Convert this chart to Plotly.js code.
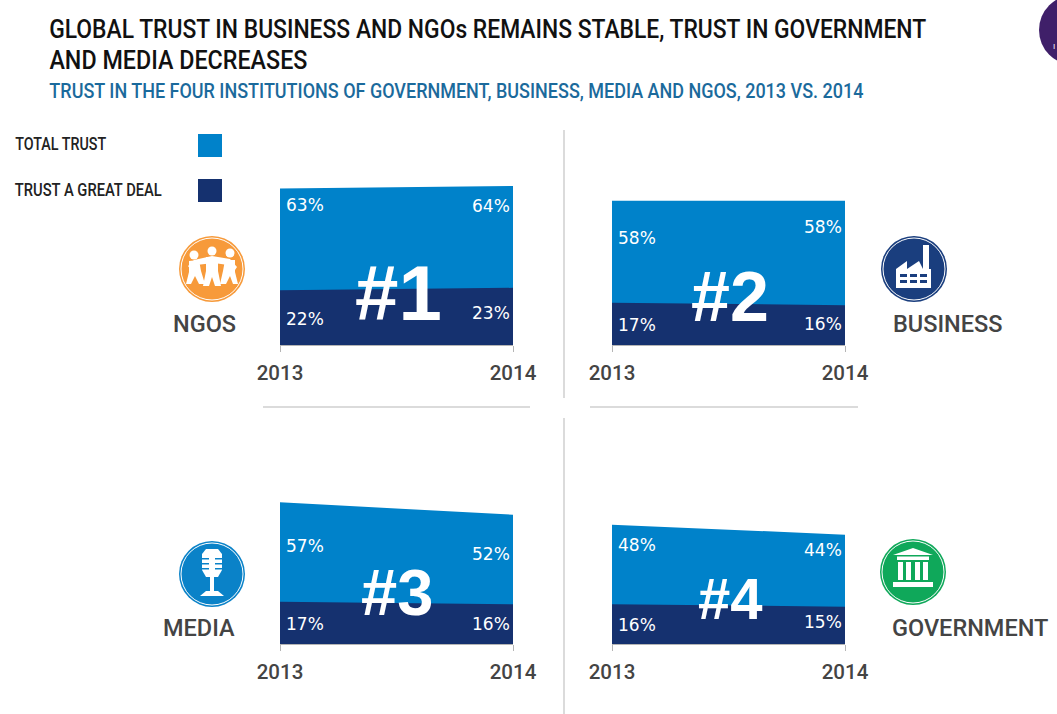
<!DOCTYPE html>
<html>
<head>
<meta charset="utf-8">
<script src="https://cdn.plot.ly/plotly-3.0.1.min.js"></script>
<style>
html, body { margin: 0; padding: 0; background: #fff; overflow: hidden; }
#chart { width: 1057px; height: 714px; }
</style>
</head>
<body>
<div id="chart"></div>
<script>
const W = 1057, H = 714;
const years = [2013, 2014];
const institutions = ["NGOS", "BUSINESS", "MEDIA", "GOVERNMENT"];
const ranks = ["#1", "#2", "#3", "#4"];
const total_trust = [[63, 64], [58, 58], [57, 52], [48, 44]];
const great_deal = [[22, 23], [17, 16], [17, 16], [16, 15]];

// how far each % label sits below the top of its area, px
const total_drop = [[17, 20], [37, 26], [44, 39], [20, 15]];
const deal_drop = [[29, 25], [22, 19], [22, 20], [21, 15]];

const light_blue = "#0082CA", dark_blue = "#15316F", sep = "#cfcfcf", label_col = "#444444";
// left, right, bottom of each panel in page px
const panels = [[280, 513, 345], [612, 845, 345], [280, 513, 644], [612, 845, 644]];
const rank_pos = [[398, 293, 78], [730, 297, 70], [397, 592, 65], [730, 598, 58]];
const name_pos = [[204, 324], [948, 324], [199, 628], [970, 628]];
const roboto = "Roboto, sans-serif";

// text squeezed to the width it has in the picture (no condensed font installed)
let squeeze = {};

let data = [], annotations = [], shapes = [];
let layout = {
    width: W,
    height: H,
    margin: { l: 0, r: 0, t: 0, b: 0 },
    paper_bgcolor: "#fff",
    plot_bgcolor: "#fff",
    showlegend: false,
    font: { family: roboto, color: label_col }
};

function px(x) { return x / W; }
function py(y) { return 1 - y / H; }

function addText(text, x, y, size, color, family, anchor, weight) {
    annotations.push({
        text: text,
        xref: "paper", yref: "paper",
        x: px(x), y: py(y),
        xanchor: anchor || "left", yanchor: "middle",
        showarrow: false,
        borderpad: 0,
        font: { size: size, color: color, family: family, weight: weight || 400 }
    });
}

// text that runs from x0 to x1 in the picture
function addFitText(text, x0, x1, y, size, color) {
    addText(text, (x0 + x1) / 2, y, size, color, roboto, "center", 500);
    squeeze[text] = x1 - x0;
}

function addSeparator(x0, y0, x1, y1) {
    shapes.push({ type: "line", xref: "paper", yref: "paper", x0: px(x0), y0: py(y0), x1: px(x1), y1: py(y1), line: { color: sep, width: 1.5 } });
}

function addCircle(cx, cy, r, fill, line) {
    shapes.push({
        type: "circle", xref: "paper", yref: "paper",
        x0: px(cx - r), x1: px(cx + r), y0: py(cy - r), y1: py(cy + r),
        fillcolor: fill, line: line || { width: 0 }
    });
}

function addPoly(cx, cy, pts, fill) {
    let path = pts.map((p, i) => (i == 0 ? "M" : "L") + px(cx + p[0]) + "," + py(cy + p[1])).join(" ") + " Z";
    shapes.push({ type: "path", xref: "paper", yref: "paper", path: path, fillcolor: fill, line: { width: 0 } });
}

function addBox(cx, cy, x0, y0, x1, y1, fill) {
    addPoly(cx, cy, [[x0, y0], [x1, y0], [x1, y1], [x0, y1]], fill);
}

function iconBase(cx, cy, color) {
    addCircle(cx, cy, 33, color);
    addCircle(cx, cy, 31, "rgba(0,0,0,0)", { color: "#fff", width: 1 });
}

function drawNgoIcon(cx, cy) {
    iconBase(cx, cy, "#F79A3A");
    [[-18, -14], [0, -18], [18, -16]].forEach(h => addCircle(cx + h[0], cy + h[1], 4.5, "#fff"));
    // linked arms
    addPoly(cx, cy, [[-24, -3], [-18, -9], [0, -13], [18, -10], [25, -2], [23, 1], [16, -4], [2, -6], [-16, -4], [-21, 1]], "#fff");
    addPoly(cx, cy, [[-23, -8], [-13, -9], [-11, 2], [-7, 15], [-13, 15], [-17, 7], [-21, 15], [-26, 15], [-23, 3]], "#fff");
    addPoly(cx, cy, [[-6, -12], [6, -12], [6, 2], [9, 17], [3, 17], [0, 8], [-3, 17], [-9, 17], [-6, 2]], "#fff");
    addPoly(cx, cy, [[13, -9], [23, -9], [23, 3], [26, 15], [21, 15], [18, 7], [14, 15], [8, 15], [11, 2]], "#fff");
}

function drawBusinessIcon(cx, cy) {
    iconBase(cx, cy, "#1A3E7E");
    addPoly(cx, cy, [[-18, 19], [-18, 0], [-7, -8], [-7, 0], [5, -8], [9, 0], [9, -24], [15, -24], [15, 0], [17, 0], [17, 19]], "#fff");
    [-14, -4, 6].forEach(c => {
        addBox(cx, cy, c, 5, c + 7, 8, "#1A3E7E");
        addBox(cx, cy, c, 11, c + 7, 14, "#1A3E7E");
    });
}

function drawMediaIcon(cx, cy) {
    iconBase(cx, cy, "#0A82C8");
    addPoly(cx, cy, [[-6, -25], [6, -25], [10, -20], [10, -4], [6, 3], [-6, 3], [-10, -4], [-10, -20]], "#fff");
    [-16, -11, -6].forEach(y => {
        addBox(cx, cy, -10, y, -3, y + 1.5, "#0A82C8");
        addBox(cx, cy, 3, y, 10, y + 1.5, "#0A82C8");
    });
    addBox(cx, cy, -2, 3, 2, 17, "#fff");
    addPoly(cx, cy, [[-6, 17], [6, 17], [12, 22], [-12, 22]], "#fff");
}

function drawGovIcon(cx, cy) {
    iconBase(cx, cy, "#0FA85A");
    addPoly(cx, cy, [[-20, -17], [0, -24], [20, -17]], "#fff");
    addBox(cx, cy, -16, -15.5, 16, -12, "#fff");
    [-15, -7, 2, 10].forEach(c => addBox(cx, cy, c, -10, c + 5, 8, "#fff"));
    addBox(cx, cy, -20, 10, 20, 15, "#fff");
}

function drawPanel(i) {
    let n = i == 0 ? "" : i + 1;
    let p = panels[i];
    layout["xaxis" + n] = {
        domain: [px(p[0]), px(p[1])],
        range: [years[0], years[1]],
        anchor: "y" + n,
        tickvals: years,
        ticktext: years.map(String),
        ticks: "outside",
        ticklen: 6,
        tickcolor: "#b5b5b5",
        showline: true,
        linecolor: "#b5b5b5",
        showgrid: false,
        zeroline: false,
        ticklabelstandoff: 3,
        tickfont: { size: 20.5, color: label_col, family: roboto, weight: 500 }
    };
    layout["yaxis" + n] = {
        domain: [py(p[2]), py(p[2] - 174)],
        range: [0, 70],
        anchor: "x" + n,
        visible: false
    };
    data.push({ x: years, y: total_trust[i], xaxis: "x" + n, yaxis: "y" + n, type: "scatter", mode: "lines", fill: "tozeroy", fillcolor: light_blue, line: { color: light_blue, width: 0 } });
    data.push({ x: years, y: great_deal[i], xaxis: "x" + n, yaxis: "y" + n, type: "scatter", mode: "lines", fill: "tozeroy", fillcolor: dark_blue, line: { color: dark_blue, width: 0 } });

    years.forEach((year, k) => {
        [[total_trust, total_drop], [great_deal, deal_drop]].forEach(set => {
            annotations.push({
                text: set[0][i][k] + "%",
                xref: "x" + n, yref: "y" + n,
                x: year, y: set[0][i][k],
                xanchor: k == 0 ? "left" : "right",
                yanchor: "middle",
                xshift: k == 0 ? 5 : -2,
                yshift: -set[1][i][k],
                showarrow: false,
                borderpad: 0,
                font: { size: 17, color: "#fff", family: "DejaVu Sans, sans-serif" }
            });
        });
    });

    addText(ranks[i], rank_pos[i][0], rank_pos[i][1], rank_pos[i][2], "#fff", "Liberation Sans, sans-serif", "center", 700);
    addText(institutions[i], name_pos[i][0], name_pos[i][1], 23.5, label_col, roboto, "center", 500);
}

for (let i = 0; i < panels.length; i++) {
    drawPanel(i);
}

addFitText("GLOBAL TRUST IN BUSINESS AND NGOs REMAINS STABLE, TRUST IN GOVERNMENT", 49, 926, 30, 25, "#111111");
addFitText("AND MEDIA DECREASES", 49, 307, 60, 25, "#111111");
addFitText("TRUST IN THE FOUR INSTITUTIONS OF GOVERNMENT, BUSINESS, MEDIA AND NGOS, 2013 VS. 2014", 49, 863, 91, 21, "#1B6A9C");
addFitText("TOTAL TRUST", 15, 106, 144, 17.5, "#222222");
addFitText("TRUST A GREAT DEAL", 15, 162, 190, 17.5, "#222222");
addBox(0, 0, 198, 134, 222, 157, light_blue);
addBox(0, 0, 198, 179, 222, 202, dark_blue);

addSeparator(564, 130, 564, 398);
addSeparator(564, 418, 564, 714);
addSeparator(263, 407, 530, 407);
addSeparator(590, 407, 858, 407);

drawNgoIcon(212, 269);
drawBusinessIcon(914, 269);
drawMediaIcon(212, 574);
drawGovIcon(913, 572);

// purple badge cut off by the page edge
addCircle(1074, 30, 35, "#3F1F69");
addText("I", 1052, 47, 8, "#fff", roboto);

layout.annotations = annotations;
layout.shapes = shapes;

Plotly.newPlot("chart", data, layout, { displayModeBar: false }).then(function () {
    document.querySelectorAll(".annotation-text").forEach(elem => {
        let width = squeeze[elem.textContent];
        if (width) {
            elem.setAttribute("textLength", width);
            elem.setAttribute("lengthAdjust", "spacingAndGlyphs");
        }
    });
});
</script>
</body>
</html>
